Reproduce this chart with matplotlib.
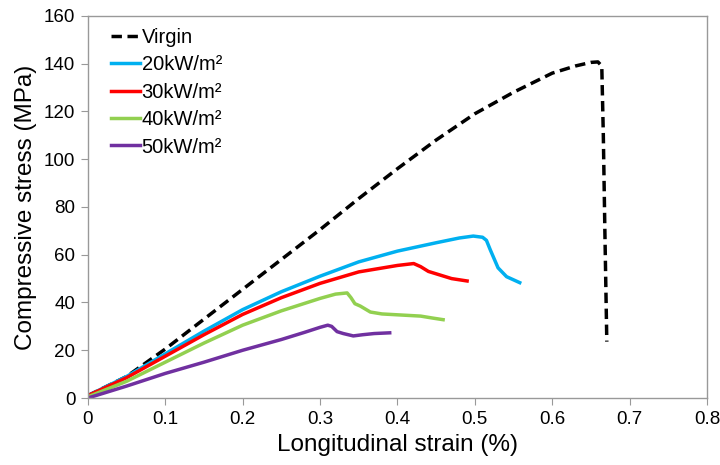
import numpy as np
import matplotlib.pyplot as plt

plt.rcParams['font.family'] = ['Liberation Sans', 'DejaVu Sans']

# stress-strain curves (strain %, stress MPa)
virgin_x = [0, 0.05, 0.1, 0.15, 0.2, 0.25, 0.3, 0.35, 0.4, 0.45, 0.5, 0.55, 0.6, 0.63, 0.65, 0.659, 0.664, 0.666, 0.668, 0.6705]
virgin_y = [1, 9, 20.5, 33, 45.5, 58, 70.5, 83.5, 96, 108, 119, 128, 136, 139, 140.5, 140.7, 139, 110, 70, 23.6]

kw20_x = [0, 0.05, 0.1, 0.15, 0.2, 0.25, 0.3, 0.35, 0.4, 0.45, 0.48, 0.498, 0.51, 0.515, 0.52, 0.524, 0.53, 0.541, 0.558]
kw20_y = [1, 9, 18.5, 28, 37, 44.5, 51, 57, 61.5, 65, 67, 67.8, 67.3, 66, 62, 59, 54.5, 50.8, 48.3]

kw30_x = [0, 0.05, 0.1, 0.15, 0.2, 0.25, 0.3, 0.35, 0.4, 0.421, 0.43, 0.44, 0.455, 0.47, 0.49]
kw30_y = [1, 8.5, 17.5, 26.5, 35, 42, 48, 52.8, 55.5, 56.3, 55, 53, 51.5, 50, 49]

kw40_x = [0, 0.05, 0.1, 0.15, 0.2, 0.25, 0.3, 0.32, 0.335, 0.34, 0.345, 0.352, 0.365, 0.38, 0.43, 0.445, 0.459]
kw40_y = [0.5, 7, 15, 23, 30.5, 36.5, 41.7, 43.5, 44, 42, 39.5, 38.5, 36, 35.2, 34.3, 33.5, 32.8]

kw50_x = [0, 0.05, 0.1, 0.15, 0.2, 0.25, 0.28, 0.3, 0.31, 0.315, 0.322, 0.33, 0.343, 0.355, 0.37, 0.39]
kw50_y = [0, 5, 10.3, 15, 20, 24.5, 27.5, 29.6, 30.5, 30, 27.8, 27, 26, 26.5, 27, 27.3]

fig = plt.figure(figsize=(7.2, 4.65), dpi=100, facecolor='w')
ax = fig.add_axes([0.122, 0.144, 0.86, 0.822])

ax.plot(virgin_x, virgin_y, color='black', ls=(0, (3, 1.6)), lw=2.5, label='Virgin')
ax.plot(kw20_x, kw20_y, color='#00b0f0', lw=2.5, label='20kW/m²')
ax.plot(kw30_x, kw30_y, color='#ff0000', lw=2.5, label='30kW/m²')
ax.plot(kw40_x, kw40_y, color='#92d050', lw=2.5, label='40kW/m²')
ax.plot(kw50_x, kw50_y, color='#7030a0', lw=2.5, label='50kW/m²')

ax.set_xlim(0, 0.8)
ax.set_ylim(0, 160)
ax.set_xticks(np.arange(0, 0.81, 0.1))
ax.set_xticklabels(['0', '0.1', '0.2', '0.3', '0.4', '0.5', '0.6', '0.7', '0.8'])
ax.set_yticks(np.arange(0, 161, 20))

for s in ax.spines.values():
    s.set_color('#999999')
    s.set_linewidth(1)
ax.tick_params(direction='out', length=5, color='#999999', labelsize=13.5, pad=4)

ax.set_xlabel('Longitudinal strain (%)', fontsize=17.5, labelpad=5)
ax.set_ylabel('Compressive stress (MPa)', fontsize=17.5, labelpad=5)

ax.legend(loc='upper left', frameon=False, fontsize=14.5, handlelength=1.4,
          handletextpad=0.1, labelspacing=0.42, borderaxespad=0.0,
          bbox_to_anchor=(0.025, 0.99))

plt.savefig('out.png', dpi=100)
plt.close()
